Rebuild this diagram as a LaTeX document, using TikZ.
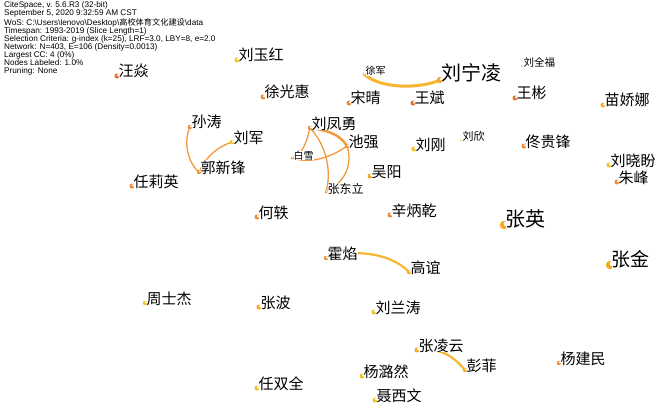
\documentclass[tikz,border=0pt]{standalone}
\usepackage{fontspec}
\setmainfont{Liberation Sans}
\newfontfamily\cjk{Noto Sans CJK SC}
\pgfdeclarelayer{paper}
\pgfdeclarelayer{bg}
\pgfsetlayers{paper,bg,main}
\definecolor{cOr}{HTML}{F28A30}
\definecolor{cRd}{HTML}{EC6A2C}
\definecolor{cYe}{HTML}{F6C21C}
\definecolor{cYo}{HTML}{F8A81E}
\definecolor{eOr}{HTML}{F39A3C}
\definecolor{eYe}{HTML}{F8B530}
\tikzset{
  lbl/.style={inner sep=0pt, fill=white, text=black},
  edge/.style={draw=eOr, line width=1.3pt, line cap=round},
  hdr/.style={anchor=north west, align=left, inner sep=0pt, font=\fontsize{8.2}{8.05}\selectfont}
}
% name, x, y, colour, radius, font size, text
\newcommand{\csn}[7]{%
  \fill[#4] (#2,#3) circle (#5);
  \fill[white] (#2+0.45*#5,#3-0.3*#5) circle (0.55*#5);
  \coordinate (#1) at (#2,#3);
  \node[lbl, anchor=base west, font=\fontsize{#6}{#6}\selectfont\cjk] (#1-t) at (#2+1.5,#3+1) {#7};
}
\begin{document}
\begin{tikzpicture}[x=1pt,y=-1pt]
\useasboundingbox (0,0) rectangle (661,409);
\begin{pgfonlayer}{paper}
\fill[white] (0,0) rectangle (661,409);
\end{pgfonlayer}
\node[hdr] (header) at (4,1.5) {CiteSpace, v. 5.6.R3 (32-bit)\\
September 5, 2020 9:32:59 AM CST\\
WoS: C:\textbackslash Users\textbackslash lenovo\textbackslash Desktop\textbackslash{\cjk 高校体育文化建设}\textbackslash data\\
Timespan: 1993-2019 (Slice Length=1)\\
Selection Criteria: g-index (k=25), LRF=3.0, LBY=8, e=2.0\\
Network: N=403, E=106 (Density=0.0013)\\
Largest CC: 4 (0\%)\\
Nodes Labeled: 1.0\%\\
Pruning: None};

\csn{wangyan}{117}{76}{cRd}{2.5}{15}{汪焱}
\csn{liuyuhong}{237}{60}{cYe}{2.5}{15}{刘玉红}
\csn{xuguanghui}{263}{97}{cOr}{2.5}{15}{徐光惠}
\csn{xujun}{364}{74}{cYe}{1.5}{10}{徐军}
\csn{liuningling}{440}{80}{cYo}{3.2}{20}{刘宁凌}
\csn{liuquanfu}{522}{66}{cYe}{1.2}{10.5}{刘全福}
\csn{songqing}{349}{103}{cOr}{2.5}{15}{宋晴}
\csn{wangbinA}{413}{103}{cRd}{2.5}{15}{王斌}
\csn{wangbinB}{515}{98}{cRd}{2.5}{15}{王彬}
\csn{miaojiaona}{603}{105}{cYo}{2.5}{15}{苗娇娜}
\csn{suntao}{190}{127}{cOr}{2.2}{15}{孙涛}
\csn{liufengyong}{310}{128}{cOr}{2.2}{15}{刘凤勇}
\csn{liujun}{232}{142}{cYe}{2.2}{15}{刘军}
\csn{chiqiang}{347}{146}{cOr}{2.2}{15}{池强}
\csn{baixue}{292}{158}{cOr}{1.5}{10}{白雪}
\csn{guoxinfeng}{199}{172}{cOr}{2.2}{15}{郭新锋}
\csn{liugang}{414}{149}{cYe}{2.5}{15}{刘刚}
\csn{liuxin}{461}{140}{cYe}{1.0}{11}{刘欣}
\csn{tongguifeng}{524}{146}{cOr}{2.5}{15}{佟贵锋}
\csn{liuxiaopan}{609}{165}{cYe}{2.5}{15}{刘晓盼}
\csn{zhufeng}{617}{182}{cOr}{2.5}{15}{朱峰}
\csn{renliying}{132}{186}{cOr}{2.5}{15}{任莉英}
\csn{wuyang}{370}{176}{cYo}{2.5}{15}{吴阳}
\csn{zhangdongli}{326}{192}{cOr}{1.5}{12}{张东立}
\csn{heyi}{257}{217}{cOr}{2.5}{15}{何轶}
\csn{xinbingqian}{390}{215}{cOr}{2.5}{15}{辛炳乾}
\csn{zhangying}{504}{225}{cYo}{4.2}{20}{张英}
\csn{huoyan}{326}{258}{cOr}{2.2}{15}{霍焰}
\csn{gaoyi}{409}{272}{cYo}{2.2}{15}{高谊}
\csn{zhangjin}{610}{265}{cYo}{4.2}{19}{张金}
\csn{zhoushijie}{145}{303}{cYe}{2.2}{15}{周士杰}
\csn{zhangbo}{259}{307}{cYo}{2.5}{15}{张波}
\csn{liulantao}{374}{312}{cYe}{2.5}{15}{刘兰涛}
\csn{zhanglingyun}{417}{350}{cYo}{2.5}{15}{张凌云}
\csn{yangjianmin}{559}{363}{cOr}{2.2}{15}{杨建民}
\csn{yangluran}{362}{376}{cYe}{2.5}{15}{杨潞然}
\csn{pengfei}{465}{370}{cYo}{2.2}{15}{彭菲}
\csn{renshuangquan}{257}{388}{cYe}{2.5}{15}{任双全}
\csn{niexiwen}{375}{400}{cYe}{2.5}{15}{聂西文}

\begin{pgfonlayer}{bg}
\draw[edge, draw=eYe, line width=3pt] (xujun) .. controls (380,89) and (420,89) .. (liuningling);
\draw[edge] (suntao) .. controls (183,142) and (188,163) .. (guoxinfeng);
\draw[edge] (liujun) .. controls (218,147) and (207,155) .. (guoxinfeng);
\draw[edge] (liufengyong) .. controls (307,140) and (303,155) .. (baixue);
\draw[edge, line width=2.4pt] (liufengyong) .. controls (326,130) and (340,134) .. (chiqiang);
\draw[edge] (liufengyong) .. controls (326,145) and (332,170) .. (zhangdongli);
\draw[edge] (chiqiang) .. controls (330,158) and (310,164) .. (baixue);
\draw[edge] (chiqiang) .. controls (353,165) and (345,182) .. (zhangdongli);
\draw[edge, draw=eYe, line width=2.2pt] (huoyan) .. controls (345,250) and (388,250) .. (gaoyi);
\draw[edge, draw=eYe, line width=2.2pt] (zhanglingyun) .. controls (440,346) and (455,358) .. (pengfei);
\end{pgfonlayer}
\end{tikzpicture}
\end{document}
